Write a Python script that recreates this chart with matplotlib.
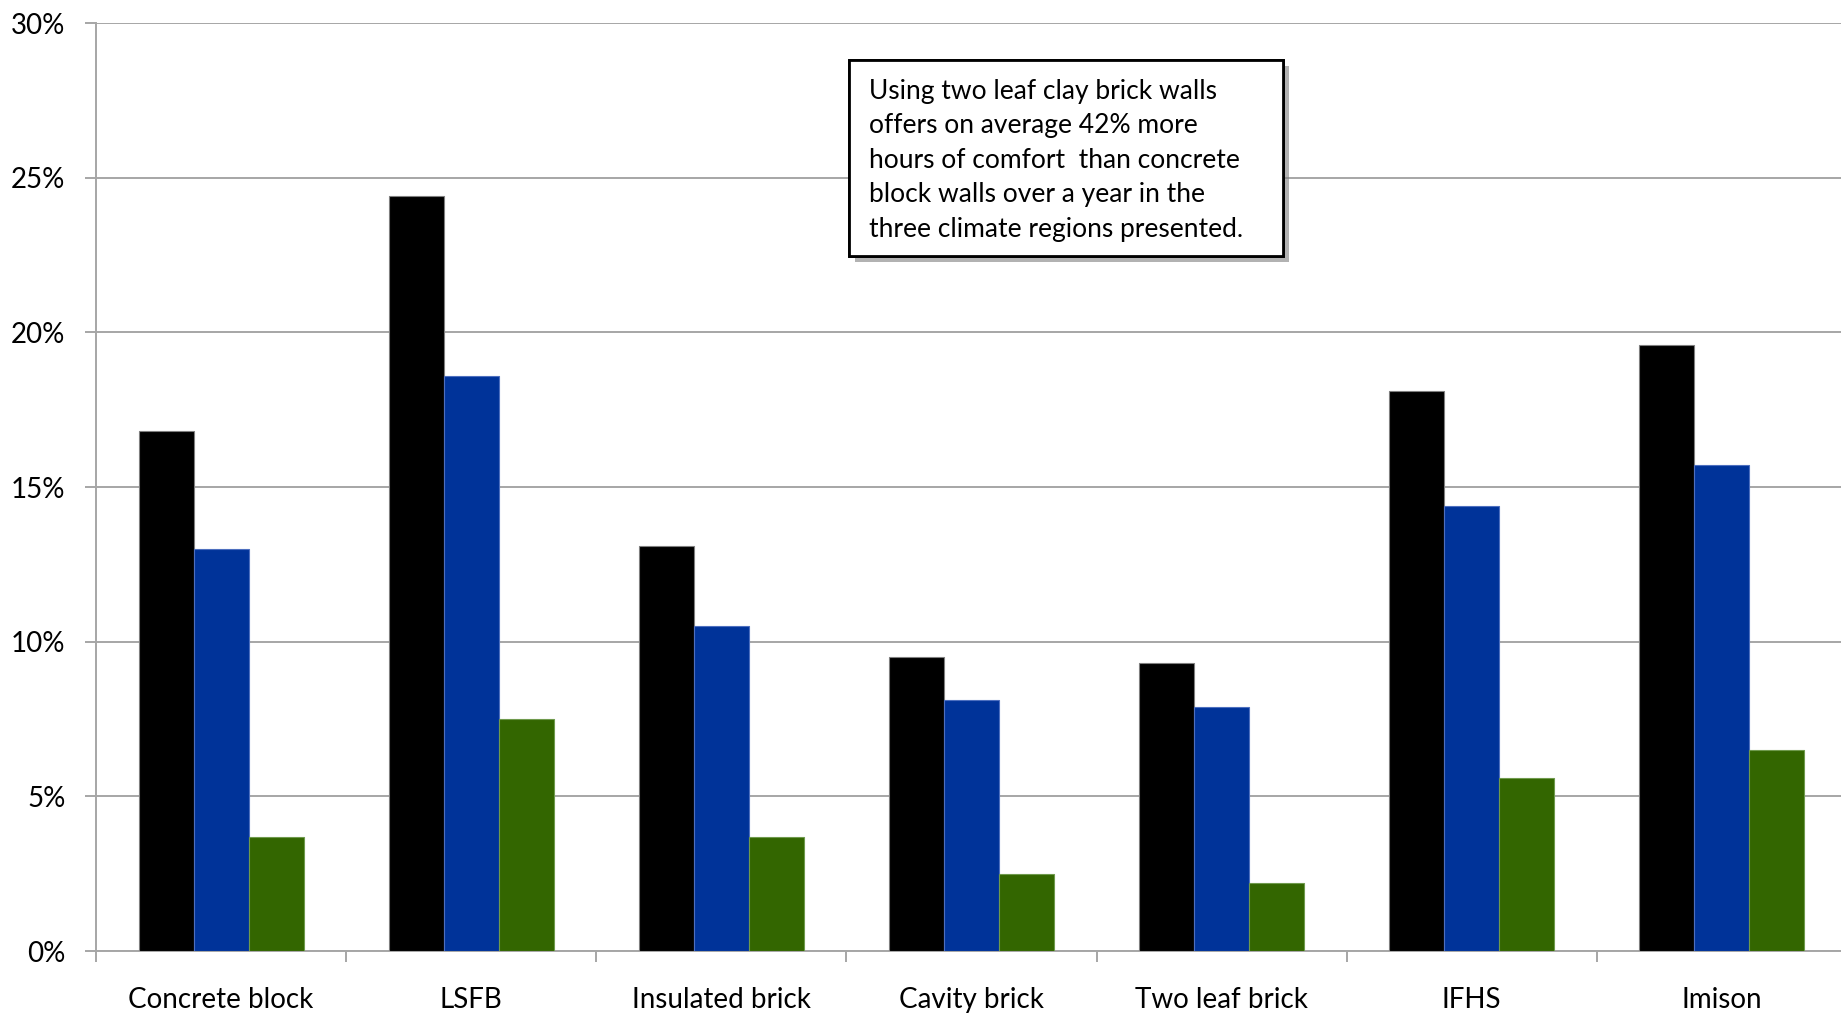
import matplotlib
matplotlib.use("Agg")
import matplotlib.pyplot as plt
import matplotlib.patheffects as pe
from matplotlib.patches import Rectangle
import numpy as np

# Share of hours outside comfort, per wall system and climate region
categories = ['Concrete block', 'LSFB', 'Insulated brick', 'Cavity brick',
              'Two leaf brick', 'IFHS', 'Imison']
region_a = [16.8, 24.4, 13.1, 9.5, 9.3, 18.1, 19.6]
region_b = [13.0, 18.6, 10.5, 8.1, 7.9, 14.4, 15.7]
region_c = [3.7, 7.5, 3.7, 2.5, 2.2, 5.6, 6.5]
y_ticks = [0, 5, 10, 15, 20, 25, 30]

note = ("Using two leaf clay brick walls\n"
        "offers on average 42% more\n"
        "hours of comfort  than concrete\n"
        "block walls over a year in the\n"
        "three climate regions presented.")

plt.rcParams['font.family'] = ['Lato', 'DejaVu Sans']

fig = plt.figure(figsize=(18.41, 10.14), dpi=100)
ax = fig.add_axes([0.0522, 0.0621, 0.951, 0.9152])

x = np.arange(len(categories))
w = 0.22
grid_col = '#a6a6a6'

ax.bar(x - w, region_a, w, color='black', edgecolor='#7f7f7f', linewidth=0.8, zorder=3)
ax.bar(x, region_b, w, color='#003399', edgecolor='#4d6fbf', linewidth=0.8, zorder=3)
ax.bar(x + w, region_c, w, color='#336600', edgecolor='#6f9a4d', linewidth=0.8, zorder=3)

ax.set_xlim(-0.5, len(categories) - 0.5)
ax.set_ylim(0, 30)
ax.set_yticks(y_ticks)
ax.set_yticklabels([f'{t}%' for t in y_ticks])
ax.yaxis.grid(True, color=grid_col, linewidth=1.4, zorder=0)
ax.set_axisbelow(True)

ax.set_xticks(x)
ax.set_xticklabels(categories)
ax.set_xticks(np.arange(len(categories) + 1) - 0.5, minor=True)
ax.tick_params(axis='x', which='major', length=0, pad=26, labelsize=20)
ax.tick_params(axis='x', which='minor', length=8, width=1.4, color=grid_col, direction='out')
ax.tick_params(axis='y', length=8, width=1.4, color=grid_col, pad=14, labelsize=20)

for side in ['top', 'right']:
    ax.spines[side].set_visible(False)
for side in ['left', 'bottom']:
    ax.spines[side].set_color(grid_col)
    ax.spines[side].set_linewidth(1.4)

# Annotation box with a soft drop shadow
box = Rectangle((0.4612, 0.7475), 0.2357, 0.1933, transform=fig.transFigure,
                facecolor='white', edgecolor='black', linewidth=2, zorder=10)
box.set_path_effects([pe.withSimplePatchShadow(offset=(4, -4), shadow_rgbFace='#7f7f7f', alpha=0.6),
                      pe.Normal()])
fig.add_artist(box)
fig.text(0.472, 0.9225, note, fontsize=19, va='top', ha='left',
         linespacing=1.475, zorder=11)

fig.savefig('out.png', dpi=100)
